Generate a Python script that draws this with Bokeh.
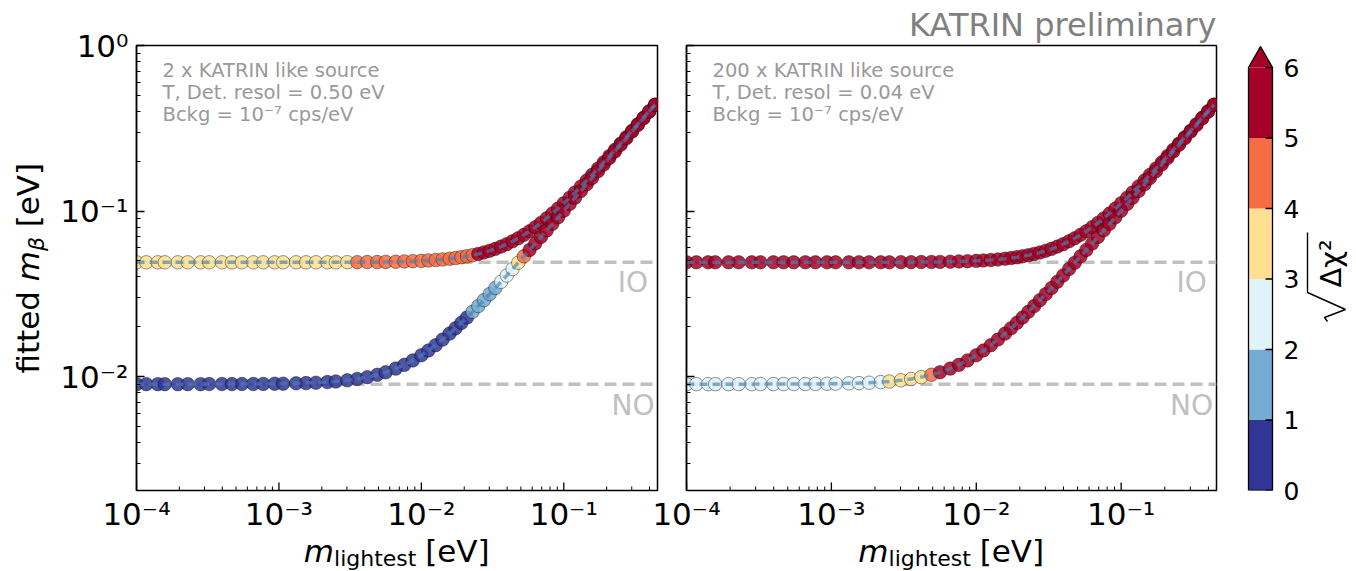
import math
from bokeh.plotting import figure
from bokeh.models import (Range1d, FixedTicker, CustomJSTickFormatter, Label, Span, Title,
                          ColumnDataSource, LinearColorMapper, LogScale)
from bokeh.core.properties import value
from bokeh.layouts import row, column
from bokeh.embed import file_html
from bokeh.resources import INLINE

FONT = "DejaVu Sans"

# ---------------- data ----------------
m_lightest = [0.000100, 0.000117, 0.000141, 0.000158, 0.000195, 0.000229, 0.000282, 0.000324,
              0.000398, 0.000468, 0.000550, 0.000661, 0.000776, 0.000933, 0.00107, 0.00132,
              0.00155, 0.00182, 0.00219, 0.00251, 0.00302, 0.00355, 0.00417, 0.00490,
              0.00562, 0.00661, 0.00759, 0.00871, 0.0100, 0.0112, 0.0126, 0.0141,
              0.0158, 0.0174, 0.0191, 0.0209, 0.0229, 0.0251, 0.0275, 0.0302,
              0.0331, 0.0363, 0.0398, 0.0437, 0.0479, 0.0525, 0.0575, 0.0631,
              0.0692, 0.0759, 0.0832, 0.0912, 0.100, 0.110, 0.120, 0.132,
              0.145, 0.158, 0.174, 0.191, 0.209, 0.229, 0.251, 0.275,
              0.302, 0.331, 0.363, 0.398, 0.437]

mbeta_IO = [0.0490, 0.0490, 0.0490, 0.0490, 0.0490, 0.0490, 0.0490, 0.0490,
            0.0490, 0.0490, 0.0490, 0.0490, 0.0490, 0.0490, 0.0490, 0.0490,
            0.0490, 0.0490, 0.0490, 0.0490, 0.0491, 0.0491, 0.0492, 0.0492,
            0.0493, 0.0494, 0.0496, 0.0498, 0.0500, 0.0503, 0.0506, 0.0510,
            0.0515, 0.0520, 0.0526, 0.0533, 0.0541, 0.0551, 0.0562, 0.0576,
            0.0591, 0.0610, 0.0631, 0.0657, 0.0685, 0.0718, 0.0755, 0.0799,
            0.0848, 0.0903, 0.0966, 0.1035, 0.1114, 0.1204, 0.1296, 0.1408,
            0.1531, 0.1654, 0.1808, 0.1972, 0.2147, 0.2342, 0.2557, 0.2793,
            0.3059, 0.3346, 0.3663, 0.4010, 0.4397]

mbeta_NO = [0.00900, 0.00900, 0.00900, 0.00900, 0.00900, 0.00900, 0.00900, 0.00901,
            0.00901, 0.00901, 0.00902, 0.00902, 0.00903, 0.00905, 0.00906, 0.00910,
            0.00913, 0.00918, 0.00926, 0.00934, 0.00949, 0.00967, 0.00992, 0.01025,
            0.01061, 0.01117, 0.01177, 0.01252, 0.01345, 0.01437, 0.01548, 0.01673,
            0.01818, 0.01959, 0.02111, 0.02276, 0.02461, 0.02666, 0.02894, 0.03151,
            0.03430, 0.03740, 0.04080, 0.04462, 0.04874, 0.05327, 0.05820, 0.06374,
            0.06978, 0.07643, 0.08369, 0.09164, 0.1004, 0.1104, 0.1203, 0.1323,
            0.1453, 0.1583, 0.1742, 0.1912, 0.2092, 0.2292, 0.2512, 0.2751,
            0.3021, 0.3311, 0.3631, 0.3981, 0.4371]

# sqrt(delta chi^2) per point, left panel (2 x KATRIN like source)
chi_IO_2x = [3.52, 3.53, 3.54, 3.55, 3.56, 3.57, 3.58, 3.60, 3.61, 3.63, 3.65, 3.67, 3.69, 3.72,
             3.74, 3.77, 3.80, 3.84, 3.88, 3.92, 3.97,
             4.02, 4.07, 4.13, 4.19, 4.26, 4.33, 4.40, 4.47, 4.54, 4.60, 4.66, 4.72, 4.78, 4.83,
             4.88, 4.94,
             5.02, 5.15, 5.30, 5.48, 5.68, 5.90, 6.14, 6.40, 6.70, 7.00, 7.40, 7.80, 8.30, 8.80,
             9.40, 10.0, 10.6, 11.3, 12.0, 12.8, 13.6, 14.5, 15.4, 16.4, 17.4, 18.5, 19.6, 20.8,
             22.0, 23.3, 24.6, 26.0]
chi_NO_2x = [0.08, 0.08, 0.09, 0.09, 0.10, 0.10, 0.11, 0.11, 0.12, 0.13, 0.14, 0.15, 0.16, 0.17,
             0.18, 0.20, 0.21, 0.23, 0.25, 0.27, 0.29, 0.32, 0.35, 0.38, 0.41, 0.45, 0.49, 0.53,
             0.57, 0.61, 0.65, 0.70, 0.75, 0.80, 0.86, 0.93,
             1.08, 1.30, 1.52, 1.74, 1.95,
             2.20, 2.52, 2.86,
             3.40,
             4.30,
             5.25, 6.20, 7.20, 8.20, 9.30, 10.4, 11.6, 12.8, 14.0, 15.3, 16.6, 18.0, 19.4, 20.9,
             22.4, 24.0, 25.6, 27.3, 29.0, 30.8, 32.6, 34.5, 36.4]

# right panel (200 x KATRIN like source)
chi_IO_200x = [9.1, 9.1, 9.1, 9.2, 9.2, 9.2, 9.3, 9.3, 9.4, 9.4, 9.5, 9.6, 9.7, 9.8, 9.9,
               10.0, 10.2, 10.4, 10.6, 10.8, 11.1, 11.4, 11.8, 12.2, 12.7, 13.2, 13.8, 14.4,
               15.1, 15.8, 16.6, 17.4, 18.3, 19.2, 20.2, 21.2, 22.3, 23.4, 24.6, 25.8, 27.1,
               28.4, 29.8, 31.2, 32.7, 34.2, 35.8, 37.4, 39.1, 40.8, 42.6, 44.4, 46.3, 48.2,
               50.2, 52.2, 54.3, 56.4, 58.6, 60.8, 63.1, 65.4, 67.8, 70.2, 72.7, 75.2, 77.8,
               80.4, 83.1]
chi_NO_200x = [2.10, 2.11, 2.12, 2.13, 2.15, 2.16, 2.18, 2.20, 2.22, 2.25, 2.28, 2.31, 2.35,
               2.39, 2.44, 2.52, 2.60, 2.70, 2.85,
               3.10, 3.40, 3.70, 3.96,
               4.50,
               5.10, 5.80, 6.60, 7.50, 8.40, 9.40, 10.4, 11.5, 12.6, 13.8, 15.0, 16.3, 17.6,
               19.0, 20.4, 21.9, 23.4, 25.0, 26.6, 28.3, 30.0, 31.8, 33.6, 35.5, 37.4, 39.4,
               41.4, 43.5, 45.6, 47.8, 50.0, 52.3, 54.6, 57.0, 59.4, 61.9, 64.4, 67.0, 69.6,
               72.3, 75.0, 77.8, 80.6, 83.5, 86.4]

IO_LEVEL = 0.049
NO_LEVEL = 0.0090

cbar_levels = [0, 1, 2, 3, 4, 5, 6]
palette = ["#313695", "#74add1", "#e0f3f8", "#fee090", "#f46d43", "#a50026"]

x_major = [1e-4, 1e-3, 1e-2, 1e-1]
y_major = [1e-2, 1e-1, 1.0]

texts_left = ["2 x KATRIN like source", "T, Det. resol = 0.50 eV", "Bckg = 10\u207b\u2077 cps/eV"]
texts_right = ["200 x KATRIN like source", "T, Det. resol = 0.04 eV", "Bckg = 10\u207b\u2077 cps/eV"]

# ---------------- layout constants ----------------
XR = (1e-4, 0.455)
YR = (0.00205, 1.0)
FH = 445            # frame height
TOP, BOTTOM = 45, 10
STRIP_H = 70        # strip under the panels: x tick labels and x-axis labels
YLAB_W = 54         # strip holding the y-axis label
TOTAL_H = TOP + FH + BOTTOM + STRIP_H
MID = 0.365         # distance from baseline to the middle of cap height, in em
TICK_MID = TOTAL_H - 513.5                 # centre of the x tick labels (strip units)
XLAB_MID = TOTAL_H - (562 - MID * 31)      # centre of the x-axis label text
XSUB_MID = TOTAL_H - (566 - MID * 22)      # centre of the subscript
LABEL_X = 0.306
IO_LABEL_Y = 0.0372
NO_LABEL_Y = 0.0067
MAJOR_LEN, MINOR_LEN = 8, 4

SUP = {"-": "\u207b", "0": "\u2070", "1": "\u00b9", "2": "\u00b2", "3": "\u00b3",
       "4": "\u2074", "5": "\u2075", "6": "\u2076", "7": "\u2077", "8": "\u2078", "9": "\u2079"}


def pow10_label(v):
    e = int(round(math.log10(v)))
    return "10" + "".join(SUP[c] for c in str(e))


x_minor = [m * 10.0 ** e for e in range(-4, 0) for m in range(2, 10) if m * 10.0 ** e < XR[1]]
y_minor = [m * 10.0 ** e for e in range(-3, 0) for m in range(2, 10) if m * 10.0 ** e > YR[0]]

mapper = LinearColorMapper(palette=palette, low=cbar_levels[0], high=cbar_levels[-1],
                           high_color=palette[-1], low_color=palette[0])

sup_code = r"""
const sup = {"-": "\u207b", "0": "\u2070", "1": "\u00b9", "2": "\u00b2", "3": "\u00b3",
             "4": "\u2074", "5": "\u2075", "6": "\u2076", "7": "\u2077", "8": "\u2078", "9": "\u2079"};
const e = Math.round(Math.log10(tick));
let s = "";
for (const ch of String(e)) { s += sup[ch]; }
return "10" + s;
"""


def add_label(p, text, x, y, size, color="black", style="normal", align="left",
              units="screen"):
    p.add_layout(Label(x=x, y=y, x_units=units, y_units=units, text=text, text_font=FONT,
                       text_font_size=f"{size}px", text_font_style=style, text_color=color,
                       text_align=align, text_baseline="middle"))


def blank_fig(w, h, xr, yr, top=0, bottom=0, left=0, right=0, y_axis=None):
    f = figure(x_range=Range1d(*xr), y_range=Range1d(*yr), frame_width=w, frame_height=h,
               min_border_left=left, min_border_right=right, min_border_top=top,
               min_border_bottom=bottom, output_backend="svg", toolbar_location=None,
               x_axis_location=None, y_axis_location=y_axis)
    f.outline_line_color = None
    f.grid.visible = False
    return f


def txt(f, x, y, s, size, style="normal", angle=0.0, align="left", color="black", **kw):
    f.text(x=x if isinstance(x, list) else [x], y=y if isinstance(y, list) else [y],
           text=s if isinstance(s, list) else [s], angle=angle, text_font=value(FONT),
           text_font_size=f"{size}px", text_font_style=style, text_align=align,
           text_baseline="middle", text_color=color, **kw)


def make_panel(fw, bl, br, chi_io, chi_no, texts, show_ylabels):
    p = figure(x_axis_type="log", y_axis_type="log",
               x_range=Range1d(*XR), y_range=Range1d(*YR),
               frame_width=fw, frame_height=FH,
               min_border_left=bl, min_border_right=br,
               min_border_top=TOP, min_border_bottom=BOTTOM,
               output_backend="svg", toolbar_location=None, x_axis_location=None)
    p.grid.visible = False
    p.outline_line_color = "black"
    p.outline_line_width = 1.5
    p.outline_line_alpha = 1.0
    ax = p.yaxis[0]
    ax.ticker = FixedTicker(ticks=y_major, minor_ticks=y_minor)
    ax.major_tick_in = MAJOR_LEN
    ax.major_tick_out = 0
    ax.minor_tick_in = MINOR_LEN
    ax.minor_tick_out = 0
    ax.major_tick_line_width = 1.3
    ax.minor_tick_line_width = 1.0
    ax.axis_line_width = 1.5
    ax.major_label_text_font = FONT
    ax.major_label_text_font_size = "31px"
    ax.major_label_text_color = "black"
    ax.formatter = CustomJSTickFormatter(code=sup_code)
    ax.major_label_standoff = 8
    if not show_ylabels:
        ax.formatter = CustomJSTickFormatter(code='return "";')
        ax.major_label_text_font_size = "0px"
        ax.major_label_standoff = 0

    # inward ticks on the bottom edge (x tick labels live in the strip below the panels)
    dpp_y = (math.log10(YR[1]) - math.log10(YR[0])) / FH
    for ticks, ln, lw in ((x_major, MAJOR_LEN, 1.3), (x_minor, MINOR_LEN, 1.0)):
        p.segment(x0=ticks, x1=ticks, y0=[YR[0]] * len(ticks),
                  y1=[YR[0] * 10 ** (ln * dpp_y)] * len(ticks),
                  line_color="black", line_width=lw)

    # reference levels
    for lvl in (IO_LEVEL, NO_LEVEL):
        p.add_layout(Span(location=lvl, dimension="width", line_color="#c0c0c0",
                          line_width=3.5, line_dash="12 6", level="underlay"))

    for ys, cs in ((mbeta_IO, chi_io), (mbeta_NO, chi_no)):
        src = ColumnDataSource(dict(x=m_lightest, y=ys, c=cs))
        p.scatter("x", "y", source=src, size=13.5, marker="circle",
                  fill_color={"field": "c", "transform": mapper}, fill_alpha=0.85,
                  line_color="black", line_alpha=0.7, line_width=0.6)
    for ys in (mbeta_IO, mbeta_NO):
        p.line(m_lightest, ys, line_color="steelblue", line_alpha=0.65, line_width=3.5,
               line_dash="8 5")

    add_label(p, "IO", LABEL_X, IO_LABEL_Y, 28, color="#c0c0c0", align="center", units="data")
    add_label(p, "NO", LABEL_X, NO_LABEL_Y, 28, color="#c0c0c0", align="center", units="data")

    for t, yy in zip(texts, (420, 398, 376)):
        add_label(p, t, 26, yy, 19.5, color="#999999")
    return p


P1_LEFT = 136 - YLAB_W
FW1, FW2 = 521, 530
p1 = make_panel(FW1, P1_LEFT, 10, chi_IO_2x, chi_NO_2x, texts_left, True)
p2 = make_panel(FW2, 19, 10, chi_IO_200x, chi_NO_200x, texts_right, False)
p2.title = Title(text="KATRIN preliminary", align="right", text_font=FONT,
                 text_font_size="32px", text_font_style="normal", text_color="#808080",
                 standoff=4)

W1 = P1_LEFT + FW1 + 10
W2 = 19 + FW2 + 10

# ---------------- strip under both panels: x tick labels and axis labels ----------------
SW = W1 + W2
st = blank_fig(SW, STRIP_H, (0, SW), (0, STRIP_H))
lx0, lx1 = math.log10(XR[0]), math.log10(XR[1])


def log_range(frame_left, fw):
    dpp = (lx1 - lx0) / fw
    return Range1d(10 ** (lx0 - frame_left * dpp), 10 ** (lx1 + (SW - frame_left - fw) * dpp))


panel_frames = {"p1": (P1_LEFT, FW1), "p2": (W1 + 19, FW2)}
st.extra_x_ranges = {k: log_range(*v) for k, v in panel_frames.items()}
st.extra_x_scales = {k: LogScale() for k in panel_frames}

s = 31
sub = 21.7
for key, (fl, fw) in panel_frames.items():
    txt(st, list(x_major), [TICK_MID] * len(x_major), [pow10_label(v) for v in x_major],
        s, align="center", x_range_name=key)
    w_m = 0.974 * s
    w_sub = 3.745 * sub
    w_rest = 0.318 * s + 2.096 * s
    x0 = fl + fw / 2 - (w_m + w_sub + w_rest) / 2
    txt(st, x0, XLAB_MID, "m", s, style="italic")
    txt(st, x0 + w_m, XSUB_MID, "lightest", 22)
    txt(st, x0 + w_m + w_sub + 0.318 * s, XLAB_MID, "[eV]", s)

# ---------------- y-axis label strip ----------------
yl = blank_fig(YLAB_W, TOTAL_H, (0, YLAB_W), (0, TOTAL_H))
ang = math.pi / 2
base_x = 39                       # page x of the text baseline
mid_x = base_x - MID * s          # rotated text: its middle lies left of the baseline
frame_mid = TOTAL_H - (TOP + FH / 2)
length = 2.982 * s + 0.974 * s + 0.635 * sub + 0.318 * s + 2.096 * s
u0 = frame_mid - length / 2
txt(yl, mid_x, u0, "fitted", s, angle=ang)
u1 = u0 + 2.982 * s
txt(yl, mid_x, u1, "m", s, style="italic", angle=ang)
u2 = u1 + 0.974 * s
txt(yl, base_x + 5 - MID * 22, u2, "\u03b2", 22, style="italic", angle=ang)
u3 = u2 + 0.635 * sub + 0.318 * s
txt(yl, mid_x, u3, "[eV]", s, angle=ang)

# ---------------- colour bar ----------------
PX_PER_UNIT = 70.5
ZERO_PAGE_Y = TOP + FH          # page y of value 0
CB_X0 = YLAB_W + W1 + W2        # page x where the colour bar figures start (1226)


def cy(page_y):
    return (ZERO_PAGE_Y - page_y) / PX_PER_UNIT


yr_cb = (cy(TOP + FH), cy(TOP))

# bar with its tick labels (right axis)
A_LEFT, A_W, A_RIGHT = 1246 - CB_X0, 30, 26
p3 = blank_fig(A_W, FH, (1246, 1246 + A_W), yr_cb, top=TOP, bottom=BOTTOM,
               left=A_LEFT, right=A_RIGHT, y_axis="right")
cax = p3.yaxis[0]
cax.ticker = FixedTicker(ticks=cbar_levels)
cax.major_tick_in = 0
cax.major_tick_out = 0
cax.minor_tick_in = 0
cax.minor_tick_out = 0
cax.axis_line_color = None
cax.major_label_standoff = 7
cax.major_label_text_font = FONT
cax.major_label_text_font_size = "25px"
cax.major_label_text_color = "black"

bl_, br_ = 1248, 1272
mid = (bl_ + br_) / 2
p3.quad(left=bl_, right=br_, bottom=cbar_levels[:-1], top=cbar_levels[1:],
        fill_color=palette, line_color=None)
apex = cy(46)
p3.patch([bl_, mid, br_], [cbar_levels[-1], apex, cbar_levels[-1]],
         fill_color=palette[-1], line_color=None)
p3.line([bl_, bl_, mid, br_, br_, bl_],
        [cbar_levels[0], cbar_levels[-1], apex, cbar_levels[-1], cbar_levels[0], cbar_levels[0]],
        line_color="black", line_width=1.3)
p3.segment(x0=[br_ - 7] * len(cbar_levels), x1=[br_] * len(cbar_levels),
           y0=cbar_levels, y1=cbar_levels, line_color="black", line_width=1.3)

# sqrt(Delta chi^2) label
B_X0 = 1246 + A_W + A_RIGHT
B_W = 1354 - B_X0
p4 = blank_fig(B_W, FH, (B_X0, B_X0 + B_W), yr_cb, top=TOP, bottom=BOTTOM)
txt(p4, 1341 - MID * 29, cy(287), "\u0394\u03c7\u00b2", 29, angle=math.pi / 2)
p4.line([1327, 1324, 1345, 1307, 1307],
        [cy(321), cy(317), cy(309), cy(292), cy(232)], line_color="black", line_width=1.4)

layout = row(yl, column(row(p1, p2, p3, p4), st))
open("out.html", "w").write(file_html(layout, INLINE))
